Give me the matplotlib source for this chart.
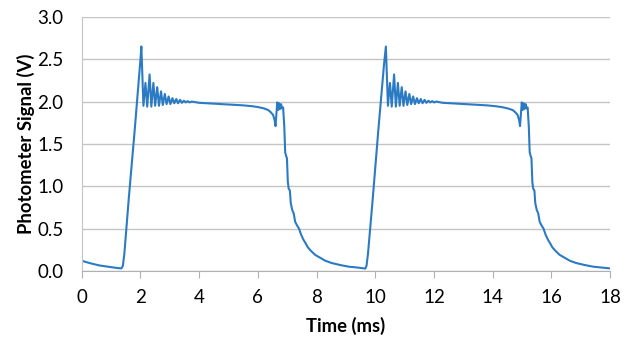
import matplotlib.pyplot as plt

# first pulse (time in ms, signal in V)
t1 = [0.0, 0.3, 0.6, 0.9, 1.2, 1.35, 1.40, 1.45, 1.6, 1.8, 2.0, 2.03,
      2.10, 2.17, 2.23, 2.31, 2.37, 2.44, 2.50, 2.57, 2.63, 2.70, 2.76, 2.83,
      2.89, 2.96, 3.02, 3.09, 3.15, 3.22, 3.28, 3.35, 3.41, 3.48, 3.54, 3.61,
      3.67, 3.75, 4.0, 4.5, 5.0, 5.5, 5.8, 6.0, 6.2, 6.35, 6.45, 6.52, 6.57,
      6.60, 6.63, 6.66, 6.69, 6.72, 6.75, 6.79, 6.82, 6.86, 6.90, 6.93, 6.96,
      6.99, 7.02, 7.05, 7.09, 7.12, 7.17, 7.22, 7.27, 7.33, 7.40, 7.47, 7.55,
      7.62, 7.70, 7.80, 7.95, 8.1, 8.3, 8.5, 8.8, 9.1, 9.4, 9.6, 9.66]
v1 = [0.12, 0.09, 0.065, 0.05, 0.035, 0.03, 0.06, 0.2, 0.85, 1.65, 2.5, 2.65,
      1.95, 2.22, 1.94, 2.32, 1.94, 2.22, 1.95, 2.17, 1.95, 2.12, 1.96, 2.09,
      1.97, 2.06, 1.97, 2.04, 1.98, 2.03, 1.98, 2.02, 1.985, 2.01, 1.99, 2.005,
      1.99, 2.0, 1.985, 1.975, 1.965, 1.955, 1.945, 1.935, 1.92, 1.9, 1.87, 1.84, 1.78,
      1.71, 1.85, 1.99, 1.90, 1.98, 1.91, 1.97, 1.92, 1.93, 1.7, 1.40, 1.36,
      1.33, 1.05, 0.97, 0.95, 0.80, 0.72, 0.68, 0.58, 0.54, 0.50, 0.43, 0.37,
      0.33, 0.28, 0.24, 0.19, 0.16, 0.12, 0.095, 0.07, 0.05, 0.04, 0.03, 0.028]

# second pulse
t2 = [9.70, 9.75, 9.90, 10.10, 10.30, 10.36,
      10.43, 10.50, 10.56, 10.64, 10.70, 10.77, 10.83, 10.90, 10.96, 11.03,
      11.09, 11.16, 11.22, 11.29, 11.35, 11.42, 11.48, 11.55, 11.61, 11.68,
      11.74, 11.81, 11.87, 11.94, 12.0, 12.08, 12.3, 12.8, 13.3, 13.8, 14.1,
      14.3, 14.5, 14.68, 14.78, 14.85, 14.90, 14.93, 14.96, 14.99, 15.02,
      15.05, 15.08, 15.12, 15.15, 15.19, 15.23, 15.26, 15.29, 15.32, 15.35,
      15.38, 15.42, 15.45, 15.50, 15.55, 15.60, 15.66, 15.73, 15.80, 15.88,
      15.95, 16.03, 16.13, 16.28, 16.43, 16.63, 16.83, 17.13, 17.43, 17.73, 18.0]
v2 = [0.06, 0.2, 0.8, 1.65, 2.45, 2.65,
      1.95, 2.22, 1.94, 2.32, 1.94, 2.22, 1.95, 2.17, 1.95, 2.12,
      1.96, 2.09, 1.97, 2.06, 1.97, 2.04, 1.98, 2.03, 1.98, 2.02,
      1.985, 2.01, 1.99, 2.005, 1.99, 2.0, 1.985, 1.975, 1.965, 1.955, 1.945,
      1.935, 1.92, 1.9, 1.87, 1.84, 1.78, 1.71, 1.85, 1.99, 1.90,
      1.98, 1.91, 1.97, 1.92, 1.93, 1.7, 1.40, 1.36, 1.33, 1.05,
      0.97, 0.95, 0.80, 0.72, 0.68, 0.58, 0.54, 0.50, 0.43, 0.37,
      0.33, 0.28, 0.24, 0.19, 0.16, 0.12, 0.095, 0.07, 0.05, 0.04, 0.03]

xticks = [0, 2, 4, 6, 8, 10, 12, 14, 16, 18]
yticks = [0.0, 0.5, 1.0, 1.5, 2.0, 2.5, 3.0]

plt.rcParams['font.family'] = ['Lato', 'DejaVu Sans']

fig = plt.figure(figsize=(6.29, 3.37), dpi=100)
ax = fig.add_axes([0.130, 0.196, 0.840, 0.754])

ax.plot(t1 + t2, v1 + v2, color="#2b7bc4", linewidth=1.5)

ax.set_xlim(0, 18)
ax.set_ylim(0, 3.0)
ax.set_xticks(xticks)
ax.set_yticks(yticks)
ax.set_yticklabels(["%.1f" % y for y in yticks])

ax.grid(axis="y", color="#c4c4c4", linewidth=1.0)
ax.set_axisbelow(True)

for s in ["top", "right"]:
    ax.spines[s].set_visible(False)
ax.spines["left"].set_color("#c4c4c4")
ax.spines["bottom"].set_color("#b0b0b0")

ax.tick_params(axis="x", direction="out", length=5, color="#b0b0b0",
               labelsize=13.5, pad=8)
ax.tick_params(axis="y", length=0, labelsize=13.5, pad=13)

ax.set_xlabel("Time (ms)", fontsize=13.3, fontweight="bold", labelpad=8)
ax.set_ylabel("Photometer Signal (V)", fontsize=13.3, fontweight="bold", labelpad=2)

fig.savefig("out.png", dpi=100)
